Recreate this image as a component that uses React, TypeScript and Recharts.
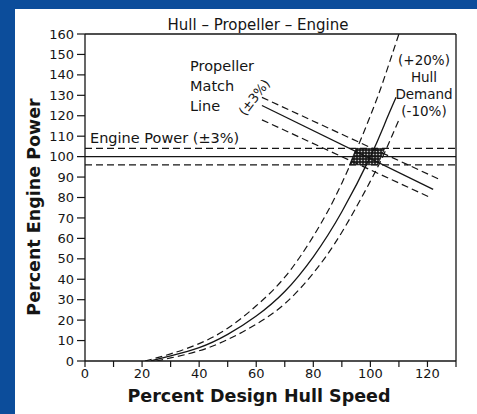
import {
  ComposedChart, Line, XAxis, YAxis, ReferenceLine, ReferenceArea
} from "recharts";

// axis ticks
const speedTicks = [0, 10, 20, 30, 40, 50, 60, 70, 80, 90, 100, 110, 120, 130];
const powerTicks = [0, 10, 20, 30, 40, 50, 60, 70, 80, 90, 100, 110, 120, 130, 140, 150, 160];

// hull demand curves (percent speed -> percent power)
const hullSpeed = [23, 30, 40, 50, 60, 70, 80, 90, 100, 105, 109];
const hullPower = [0, 2.5, 6.5, 13, 22, 34, 51, 73, 100, 116, 129];
const hullHighSpeed = [21, 30, 40, 50, 60, 70, 80, 90, 100, 105, 110];
const hullHighPower = [0, 3.5, 8.5, 16, 27, 41, 61, 87, 120, 139, 160];
const hullLowSpeed = [25, 30, 40, 50, 60, 70, 80, 90, 100, 105, 110];
const hullLowPower = [0, 1.5, 5, 10.5, 18, 28, 43, 63, 88, 102, 118];

// propeller match line and its +/-3% band
const propSpeed = [62, 122];
const propPower = [125, 84];
const propHighSpeed = [62, 124];
const propHighPower = [129, 89];
const propLowSpeed = [62, 121];
const propLowPower = [118, 80];

// engine power +/-3%
const enginePower = 100;
const engineHigh = 104;
const engineLow = 96;

// operating zone (parallelogram)
const zoneTop = 104;
const zoneBottom = 96;
const zoneTopSpeed = [95, 105];
const zoneBottomSpeed = [92.7, 102.6];

const pts = (xs: number[], ys: number[]) => xs.map((x, i) => ({ x, y: ys[i] }));

const INK = "#151515";
const DASH = "7 4";
const FONT = "'DejaVu Sans', sans-serif";

const ZoneShape = (props: any) => {
  const { x, y, width, height } = props;
  const left = zoneBottomSpeed[0];
  const span = zoneTopSpeed[1] - left;
  const topLeft = ((zoneTopSpeed[0] - left) / span) * width;
  const botRight = ((zoneBottomSpeed[1] - left) / span) * width;
  const points = `${x + topLeft},${y} ${x + width},${y} ${x + botRight},${y + height} ${x},${y + height}`;
  return <polygon points={points} fill="url(#zoneHatch)" stroke={INK} strokeWidth={0.8} />;
};

export default function App() {
  return (
    <div style={{ position: "absolute", left: 0, top: 0, width: 477, height: 414, background: "#0c4d9b", fontFamily: FONT, overflow: "hidden" }}>
      <div style={{ position: "absolute", left: 15, top: 9, width: 462, height: 405, background: "#fff" }} />
      <div style={{ position: "absolute", left: 0, top: 0 }}>
        <ComposedChart
          width={477}
          height={414}
          margin={{ top: 34, right: 21, left: 40, bottom: 23 }}
        >
          <defs>
            <pattern id="zoneHatch" width="3" height="3" patternUnits="userSpaceOnUse">
              <rect width="3" height="3" fill="#1e1e1e" />
              <circle cx="1.5" cy="1.5" r="0.8" fill="#d0d0d0" />
            </pattern>
          </defs>
          <XAxis
            type="number"
            dataKey="x"
            domain={[0, 130]}
            ticks={speedTicks}
            interval={0}
            allowDataOverflow
            tickFormatter={(v: number) => (v % 20 === 0 && v <= 120 ? String(v) : "")}
            tick={{ fontSize: 13, fill: INK, fontFamily: FONT }}
            tickSize={6}
            tickMargin={2}
            axisLine={{ stroke: INK, strokeWidth: 1.3 }}
            tickLine={{ stroke: INK, strokeWidth: 1.2 }}
            height={30}
          />
          <YAxis
            type="number"
            dataKey="y"
            domain={[0, 160]}
            ticks={powerTicks}
            interval={0}
            allowDataOverflow
            tick={{ fontSize: 13, fill: INK, fontFamily: FONT }}
            tickSize={8}
            tickMargin={3}
            axisLine={{ stroke: INK, strokeWidth: 1.3 }}
            tickLine={{ stroke: INK, strokeWidth: 1.2 }}
            width={45}
          />

          <ReferenceLine y={160} stroke={INK} strokeWidth={1.3} />
          <ReferenceLine x={130} stroke={INK} strokeWidth={1.3} />

          <ReferenceLine y={engineHigh} stroke={INK} strokeWidth={1.2} strokeDasharray={DASH} />
          <ReferenceLine y={enginePower} stroke={INK} strokeWidth={1.3} />
          <ReferenceLine y={engineLow} stroke={INK} strokeWidth={1.2} strokeDasharray={DASH} />

          <ReferenceArea
            x1={zoneBottomSpeed[0]}
            x2={zoneTopSpeed[1]}
            y1={zoneBottom}
            y2={zoneTop}
            shape={ZoneShape}
          />

          <Line data={pts(hullHighSpeed, hullHighPower)} dataKey="y" type="natural" stroke={INK} strokeWidth={1.2} strokeDasharray={DASH} dot={false} isAnimationActive={false} />
          <Line data={pts(hullSpeed, hullPower)} dataKey="y" type="natural" stroke={INK} strokeWidth={1.3} dot={false} isAnimationActive={false} />
          <Line data={pts(hullLowSpeed, hullLowPower)} dataKey="y" type="natural" stroke={INK} strokeWidth={1.2} strokeDasharray={DASH} dot={false} isAnimationActive={false} />

          <Line data={pts(propHighSpeed, propHighPower)} dataKey="y" type="linear" stroke={INK} strokeWidth={1.2} strokeDasharray={DASH} dot={false} isAnimationActive={false} />
          <Line data={pts(propSpeed, propPower)} dataKey="y" type="linear" stroke={INK} strokeWidth={1.3} dot={false} isAnimationActive={false} />
          <Line data={pts(propLowSpeed, propLowPower)} dataKey="y" type="linear" stroke={INK} strokeWidth={1.2} strokeDasharray={DASH} dot={false} isAnimationActive={false} />
        </ComposedChart>
      </div>

      <svg width={477} height={414} style={{ position: "absolute", left: 0, top: 0, pointerEvents: "none" }}>
        <g fill={INK} fontFamily={FONT}>
          <text x={258} y={30} fontSize={15} textAnchor="middle">Hull – Propeller – Engine</text>
          <text x={259} y={402} fontSize={17.5} fontWeight="bold" textAnchor="middle">Percent Design Hull Speed</text>
          <text transform="translate(40,207) rotate(-90)" fontSize={17.5} fontWeight="bold" textAnchor="middle">Percent Engine Power</text>

          <text x={90} y={143} fontSize={14.5}>Engine Power (±3%)</text>

          <text x={190} y={71} fontSize={14.5}>Propeller</text>
          <text x={190} y={91} fontSize={14.5}>Match</text>
          <text x={190} y={111} fontSize={14.5}>Line</text>
          <text transform="translate(255,98) rotate(-52)" fontSize={13} textAnchor="middle" dominantBaseline="middle">(±3%)</text>

          <text x={424} y={65} fontSize={13.5} textAnchor="middle">(+20%)</text>
          <text x={424} y={82} fontSize={13.5} textAnchor="middle">Hull</text>
          <text x={424} y={99} fontSize={13.5} textAnchor="middle">Demand</text>
          <text x={424} y={116} fontSize={13.5} textAnchor="middle">(-10%)</text>
        </g>
      </svg>
    </div>
  );
}
